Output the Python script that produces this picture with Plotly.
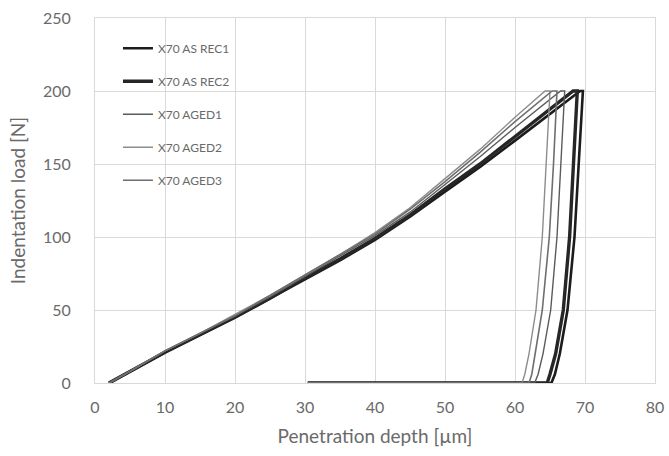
import plotly.graph_objects as go

# Series names
names = ["X70 AS REC1", "X70 AS REC2", "X70 AGED1", "X70 AGED2", "X70 AGED3"]

# Penetration depth [µm] and indentation load [N] for each series
# (loading, peak hold, unloading, retraction along zero load)
rec1_depth = [2, 5, 10, 15, 20, 25, 30, 35, 40, 45, 50, 55, 60, 65, 69.3,
              69.7, 69.1, 68.5, 67.5, 66.4, 65.7, 65.2, 30.4]
rec1_load = [0, 8, 21, 33, 45, 58, 71, 84, 98, 114, 131, 148, 166, 184, 200,
             200, 150, 100, 50, 20, 6, 0, 0]

rec2_depth = [2, 5, 10, 15, 20, 25, 30, 35, 40, 45, 50, 55, 60, 65, 68.3,
              68.9, 68.4, 67.8, 66.9, 65.8, 65.0, 64.6, 30.4]
rec2_load = [0, 8, 21, 33, 45, 58, 72, 85, 99, 115, 133, 150, 169, 188, 200,
             200, 150, 100, 50, 20, 6, 0, 0]

aged1_depth = [2, 5, 10, 15, 20, 25, 30, 35, 40, 45, 50, 55, 60, 65, 66.5,
               67.1, 66.6, 66.0, 65.1, 64.0, 63.3, 62.8, 30.4]
aged1_load = [0, 8, 22, 34, 46, 59, 73, 87, 101, 117, 136, 155, 175, 194, 200,
              200, 150, 100, 50, 20, 6, 0, 0]

aged2_depth = [2, 5, 10, 15, 20, 25, 30, 35, 40, 45, 50, 55, 60, 64.3,
               65.0, 64.5, 63.9, 63.0, 62.0, 61.4, 61.0, 30.4]
aged2_load = [0, 8, 22, 34, 47, 60, 74, 88, 103, 120, 140, 160, 182, 200,
              200, 150, 100, 50, 20, 6, 0, 0]

aged3_depth = [2, 5, 10, 15, 20, 25, 30, 35, 40, 45, 50, 55, 60, 65.3,
               66.0, 65.5, 64.9, 63.9, 62.9, 62.4, 62.0, 30.4]
aged3_load = [0, 8, 22, 34, 46, 60, 74, 88, 102, 119, 138, 158, 179, 200,
              200, 150, 100, 50, 20, 6, 0, 0]

x_ticks = [0, 10, 20, 30, 40, 50, 60, 70, 80]
y_ticks = [0, 50, 100, 150, 200, 250]

depths = [rec1_depth, rec2_depth, aged1_depth, aged2_depth, aged3_depth]
loads = [rec1_load, rec2_load, aged1_load, aged2_load, aged3_load]
colors = ["#1c1c1c", "#262626", "#5a5a5a", "#8c8c8c", "#6e6e6e"]
widths = [2.6, 3.4, 1.4, 1.4, 1.6]

fig = go.Figure()
for i, (n, d, l) in enumerate(zip(names, depths, loads)):
    fig.add_trace(go.Scatter(
        x=d, y=l, mode="lines", name=n, legendgroup=n,
        line=dict(color=colors[i], width=widths[i]),
    ))

font_family = "Lato, 'Open Sans', sans-serif"
grid = "#d9d9d9"
fig.update_layout(
    width=669, height=456,
    margin=dict(l=95, r=14, t=18, b=73),
    paper_bgcolor="white", plot_bgcolor="white",
    font=dict(family=font_family, color="#595959", size=14),
    showlegend=True,
    legend=dict(
        x=0.041, y=0.957, xanchor="left", yanchor="top",
        bgcolor="rgba(255,255,255,0)", borderwidth=0,
        font=dict(size=12, color="#6a6a6a", family=font_family),
        traceorder="grouped", tracegroupgap=14,
    ),
    xaxis=dict(
        range=[0, 80], tickvals=x_ticks, ticktext=[str(v) for v in x_ticks],
        showgrid=True, gridcolor=grid, gridwidth=1, automargin=False,
        zeroline=False, showline=True, linecolor=grid, mirror=True,
        ticks="", ticklabelstandoff=10,
        tickfont=dict(size=16, color="#6a6a6a"),
        title=dict(text="Penetration depth [µm]", font=dict(size=19, color="#6a6a6a"), standoff=14),
    ),
    yaxis=dict(
        range=[0, 250], tickvals=y_ticks, ticktext=[str(v) for v in y_ticks],
        showgrid=True, gridcolor=grid, gridwidth=1, automargin=False,
        zeroline=False, showline=True, linecolor=grid, mirror=True,
        ticks="", ticklabelstandoff=20,
        tickfont=dict(size=16, color="#6a6a6a"),
        title=dict(text="Indentation load [N]", font=dict(size=19, color="#6a6a6a"), standoff=12),
    ),
)

fig.write_html(
    "out.html",
    config={"displayModeBar": False},
    post_script="document.body.style.margin='0';document.body.style.overflow='hidden';",
)
